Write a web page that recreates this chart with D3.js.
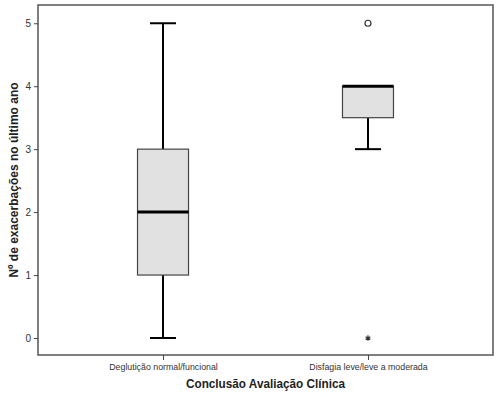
<!DOCTYPE html>
<html>
<head>
<meta charset="utf-8">
<script src="https://cdn.jsdelivr.net/npm/d3@7"></script>
<style>
	body { margin: 0; background: #fff; }
	svg { display: block; font-family: "Liberation Sans", Arial, sans-serif; }
</style>
</head>
<body>
<svg id="chart" width="500" height="397"></svg>
<script>
// boxplot summary per group
const categories = ['Deglutição normal/funcional', 'Disfagia leve/leve a moderada'];
const whiskerLow = [0, 3];
const q1 = [1, 3.5];
const median = [2, 4];
const q3 = [3, 4];
const whiskerHigh = [5, 4];
const outliers = [[], [5]];     // circles
const extremes = [[], [0]];     // stars
const yTicks = [0, 1, 2, 3, 4, 5];

const margin = {top: 5, left: 38, right: 7, bottom: 42};
const width = 500 - margin.left - margin.right,
	height = 397 - margin.top - margin.bottom;

const svg = d3.select('#chart');
const g = svg.append('g')
	.attr('transform', 'translate(' + margin.left + ',' + margin.top + ')');

const x = d3.scalePoint()
	.domain(categories)
	.range([0, width])
	.padding(0.61);

const y = d3.scaleLinear()
	.domain([-0.27, 5.29])
	.range([height, 0]);

const boxWidth = 51,
	capWidth = 26;

// frame
g.append('rect')
	.attr('width', width)
	.attr('height', height)
	.attr('fill', '#fff')
	.attr('stroke', '#555')
	.attr('stroke-width', 1.5);

// axes
const yAxis = g.append('g')
	.call(d3.axisLeft(y).tickValues(yTicks).tickSize(4).tickPadding(3).tickFormat(d3.format('d')));
const xAxis = g.append('g')
	.attr('transform', 'translate(0,' + height + ')')
	.call(d3.axisBottom(x).tickSize(5).tickPadding(4));

[yAxis, xAxis].forEach((a) => {
	a.select('.domain').remove();
	a.selectAll('line').attr('stroke', '#444');
	a.selectAll('text').attr('fill', '#333').style('font-family', '"Liberation Sans", Arial, sans-serif');
});
yAxis.selectAll('text').style('font-size', '10px');
xAxis.selectAll('text').style('font-size', '8.8px');

// boxes
categories.forEach((c, i) => {
	const cx = x(c);
	const box = g.append('g');

	// whiskers
	box.append('line')
		.attr('x1', cx).attr('x2', cx)
		.attr('y1', y(whiskerLow[i])).attr('y2', y(q1[i]))
		.attr('stroke', '#000').attr('stroke-width', 2);
	box.append('line')
		.attr('x1', cx).attr('x2', cx)
		.attr('y1', y(q3[i])).attr('y2', y(whiskerHigh[i]))
		.attr('stroke', '#000').attr('stroke-width', 2);
	[whiskerLow[i], whiskerHigh[i]].forEach((v) => {
		box.append('line')
			.attr('x1', cx - capWidth / 2).attr('x2', cx + capWidth / 2)
			.attr('y1', y(v)).attr('y2', y(v))
			.attr('stroke', '#000').attr('stroke-width', 2);
	});

	box.append('rect')
		.attr('x', cx - boxWidth / 2)
		.attr('y', y(q3[i]))
		.attr('width', boxWidth)
		.attr('height', y(q1[i]) - y(q3[i]))
		.attr('fill', '#e1e1e1')
		.attr('stroke', '#444')
		.attr('stroke-width', 1.2);

	box.append('line')
		.attr('x1', cx - boxWidth / 2).attr('x2', cx + boxWidth / 2)
		.attr('y1', y(median[i])).attr('y2', y(median[i]))
		.attr('stroke', '#000').attr('stroke-width', 3);

	outliers[i].forEach((v) => {
		box.append('circle')
			.attr('cx', cx).attr('cy', y(v)).attr('r', 3)
			.attr('fill', 'none').attr('stroke', '#333').attr('stroke-width', 1.2);
	});
	extremes[i].forEach((v) => {
		box.append('path')
			.attr('transform', 'translate(' + cx + ',' + y(v) + ')')
			.attr('d', d3.symbol(d3.symbolAsterisk).size(20)())
			.attr('stroke', '#333').attr('stroke-width', 1.2);
	});
});

// axis titles, centred on the plot frame
svg.append('text')
	.attr('x', margin.left + width / 2)
	.attr('y', 388)
	.attr('text-anchor', 'middle')
	.attr('textLength', 159)
	.attr('lengthAdjust', 'spacingAndGlyphs')
	.style('font-size', '12px')
	.style('font-weight', 'bold')
	.attr('fill', '#222')
	.text('Conclusão Avaliação Clínica');

svg.append('text')
	.attr('transform', 'translate(18,' + (margin.top + height / 2) + ') rotate(-90)')
	.attr('text-anchor', 'middle')
	.style('font-size', '12px')
	.style('font-weight', 'bold')
	.attr('fill', '#222')
	.text('Nº de exacerbações no último ano');
</script>
</body>
</html>
